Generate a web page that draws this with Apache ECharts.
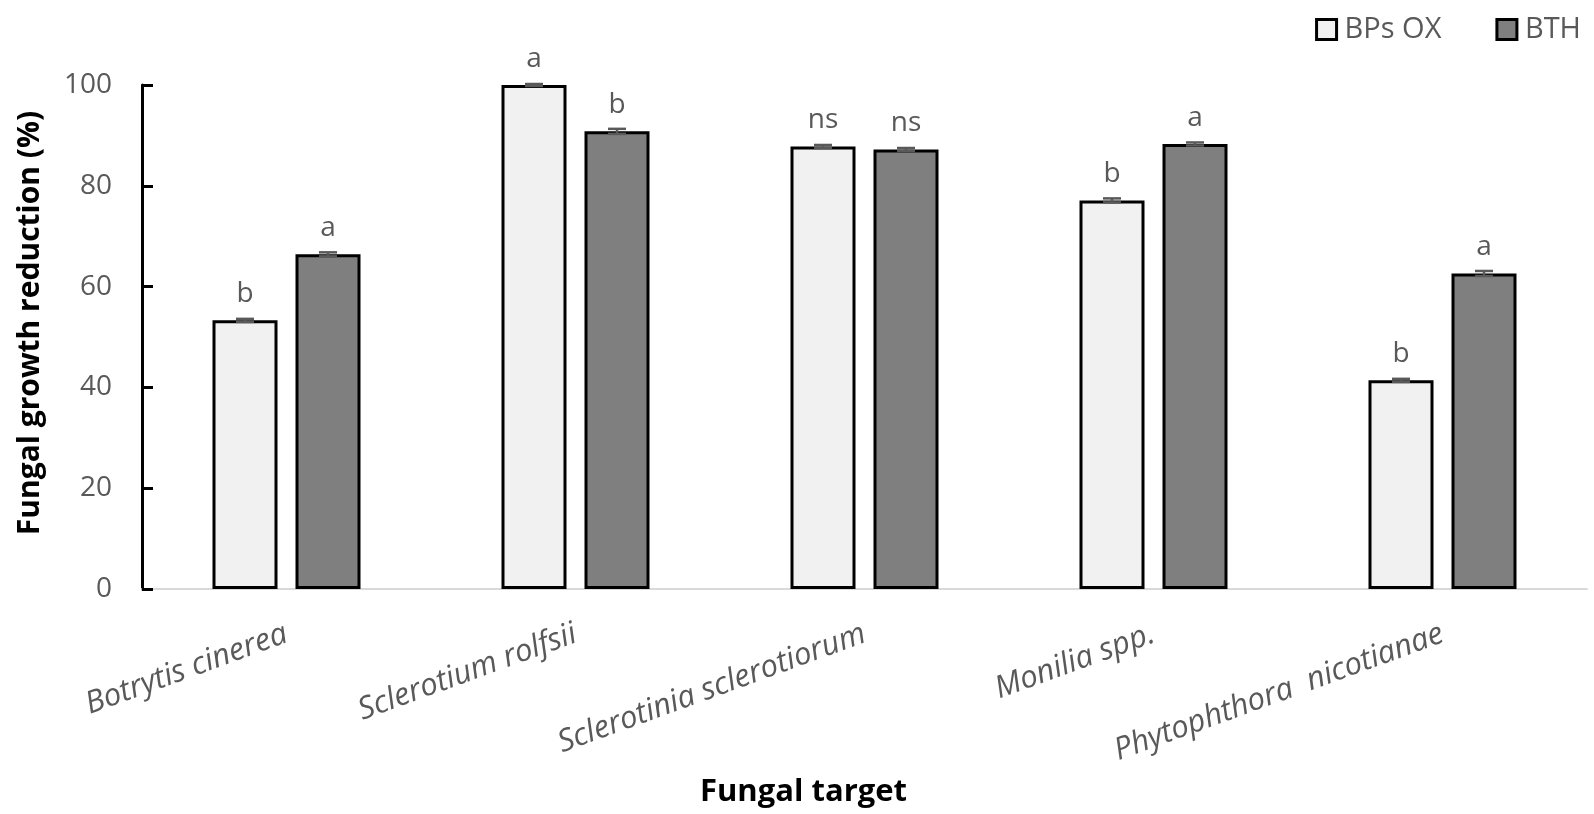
<!DOCTYPE html>
<html>
<head>
<meta charset="utf-8">
<script src="https://cdn.jsdelivr.net/npm/echarts@6/dist/echarts.min.js"></script>
<style>
html,body{margin:0;padding:0;background:#fff;}
#chart{width:1594px;height:814px;}
</style>
</head>
<body>
<div id="chart"></div>
<script>
const categories = ['Botrytis cinerea', 'Sclerotium rolfsii', 'Sclerotinia sclerotiorum', 'Monilia spp.', 'Phytophthora  nicotianae'];
const seriesNames = ['BPs OX', 'BTH'];
const bpsValues = [53.3, 100, 87.8, 77.1, 41.4];
const bthValues = [66.4, 90.8, 87.2, 88.3, 62.6];
const bpsErr = [0.3, 0.2, 0.3, 0.4, 0.3];
const bthErr = [0.4, 0.5, 0.3, 0.3, 0.5];
const bpsLetters = ['b', 'a', 'ns', 'b', 'b'];
const bthLetters = ['a', 'b', 'ns', 'a', 'a'];
const yTicks = [0, 20, 40, 60, 80, 100];

const FONT = 'Open Sans';
const BAR_W = 65;
const BAR_GAP = 18;

function errSeries(values, errs, side) {
  return {
    type: 'custom',
    silent: true,
    z: 5,
    data: values.map((v, i) => [i, v, errs[i]]),
    renderItem: function (params, api) {
      const idx = api.value(0);
      const v = api.value(1);
      const e = api.value(2);
      const base = api.coord([idx, v]);
      const x = base[0] + side * (BAR_W + BAR_GAP) / 2;
      const yTop = api.coord([idx, v + e])[1];
      const yBot = api.coord([idx, v - e])[1];
      const cap = 9;
      const style = { stroke: '#595959', lineWidth: 2.5, fill: null };
      return {
        type: 'group',
        children: [
          { type: 'line', shape: { x1: x, y1: yTop, x2: x, y2: yBot }, style: style },
          { type: 'line', shape: { x1: x - cap, y1: yTop, x2: x + cap, y2: yTop }, style: style },
          { type: 'line', shape: { x1: x - cap, y1: yBot, x2: x + cap, y2: yBot }, style: style }
        ]
      };
    }
  };
}

const chart = echarts.init(document.getElementById('chart'), null, { renderer: 'canvas' });
chart.setOption({
  animation: false,
  backgroundColor: '#ffffff',
  textStyle: { fontFamily: FONT },
  legend: {
    data: seriesNames,
    right: 8,
    top: 10,
    itemWidth: 20,
    itemHeight: 20,
    itemGap: 54,
    icon: 'rect',
    itemStyle: { borderColor: '#000000', borderWidth: 3 },
    textStyle: { fontFamily: FONT, fontSize: 29, color: '#595959', padding: [0, 0, 0, 3] }
  },
  grid: { left: 142, right: 7, top: 85, bottom: 225, containLabel: false },
  xAxis: {
    type: 'category',
    data: categories,
    axisLine: { lineStyle: { color: '#d9d9d9', width: 2 } },
    axisTick: { show: false },
    axisLabel: {
      rotate: 20,
      fontFamily: FONT,
      fontStyle: 'italic',
      fontSize: 31,
      color: '#595959',
      margin: 44,
      interval: 0
    },
    name: 'Fungal target',
    nameLocation: 'middle',
    nameGap: 188,
    nameTextStyle: { fontFamily: FONT, fontWeight: 'bold', fontSize: 31, color: '#000000', padding: [0, 122, 0, 0] }
  },
  yAxis: {
    type: 'value',
    min: yTicks[0],
    max: yTicks[yTicks.length - 1],
    interval: 20,
    splitLine: { show: false },
    axisLine: { show: true, lineStyle: { color: '#000000', width: 3 } },
    axisTick: { show: true, inside: true, length: 11, lineStyle: { color: '#000000', width: 3 } },
    axisLabel: { fontFamily: FONT, fontSize: 28, color: '#595959', margin: 30 },
    name: 'Fungal growth reduction (%)',
    nameLocation: 'middle',
    nameGap: 97,
    nameTextStyle: { fontFamily: FONT, fontWeight: 'bold', fontSize: 30, color: '#000000', padding: [0, 0, 0, 28] }
  },
  series: [
    {
      name: seriesNames[0],
      type: 'bar',
      data: bpsValues,
      barWidth: BAR_W,
      barGap: (BAR_GAP / BAR_W * 100) + '%',
      itemStyle: { color: '#f1f1f1', borderColor: '#000000', borderWidth: 3 },
      label: {
        show: true,
        position: 'top',
        distance: 12,
        fontFamily: FONT,
        fontSize: 28,
        color: '#595959',
        formatter: p => bpsLetters[p.dataIndex]
      }
    },
    {
      name: seriesNames[1],
      type: 'bar',
      data: bthValues,
      barWidth: BAR_W,
      itemStyle: { color: '#7f7f7f', borderColor: '#000000', borderWidth: 3 },
      label: {
        show: true,
        position: 'top',
        distance: 12,
        fontFamily: FONT,
        fontSize: 28,
        color: '#595959',
        formatter: p => bthLetters[p.dataIndex]
      }
    },
    errSeries(bpsValues, bpsErr, -1),
    errSeries(bthValues, bthErr, 1)
  ]
});
</script>
</body>
</html>
